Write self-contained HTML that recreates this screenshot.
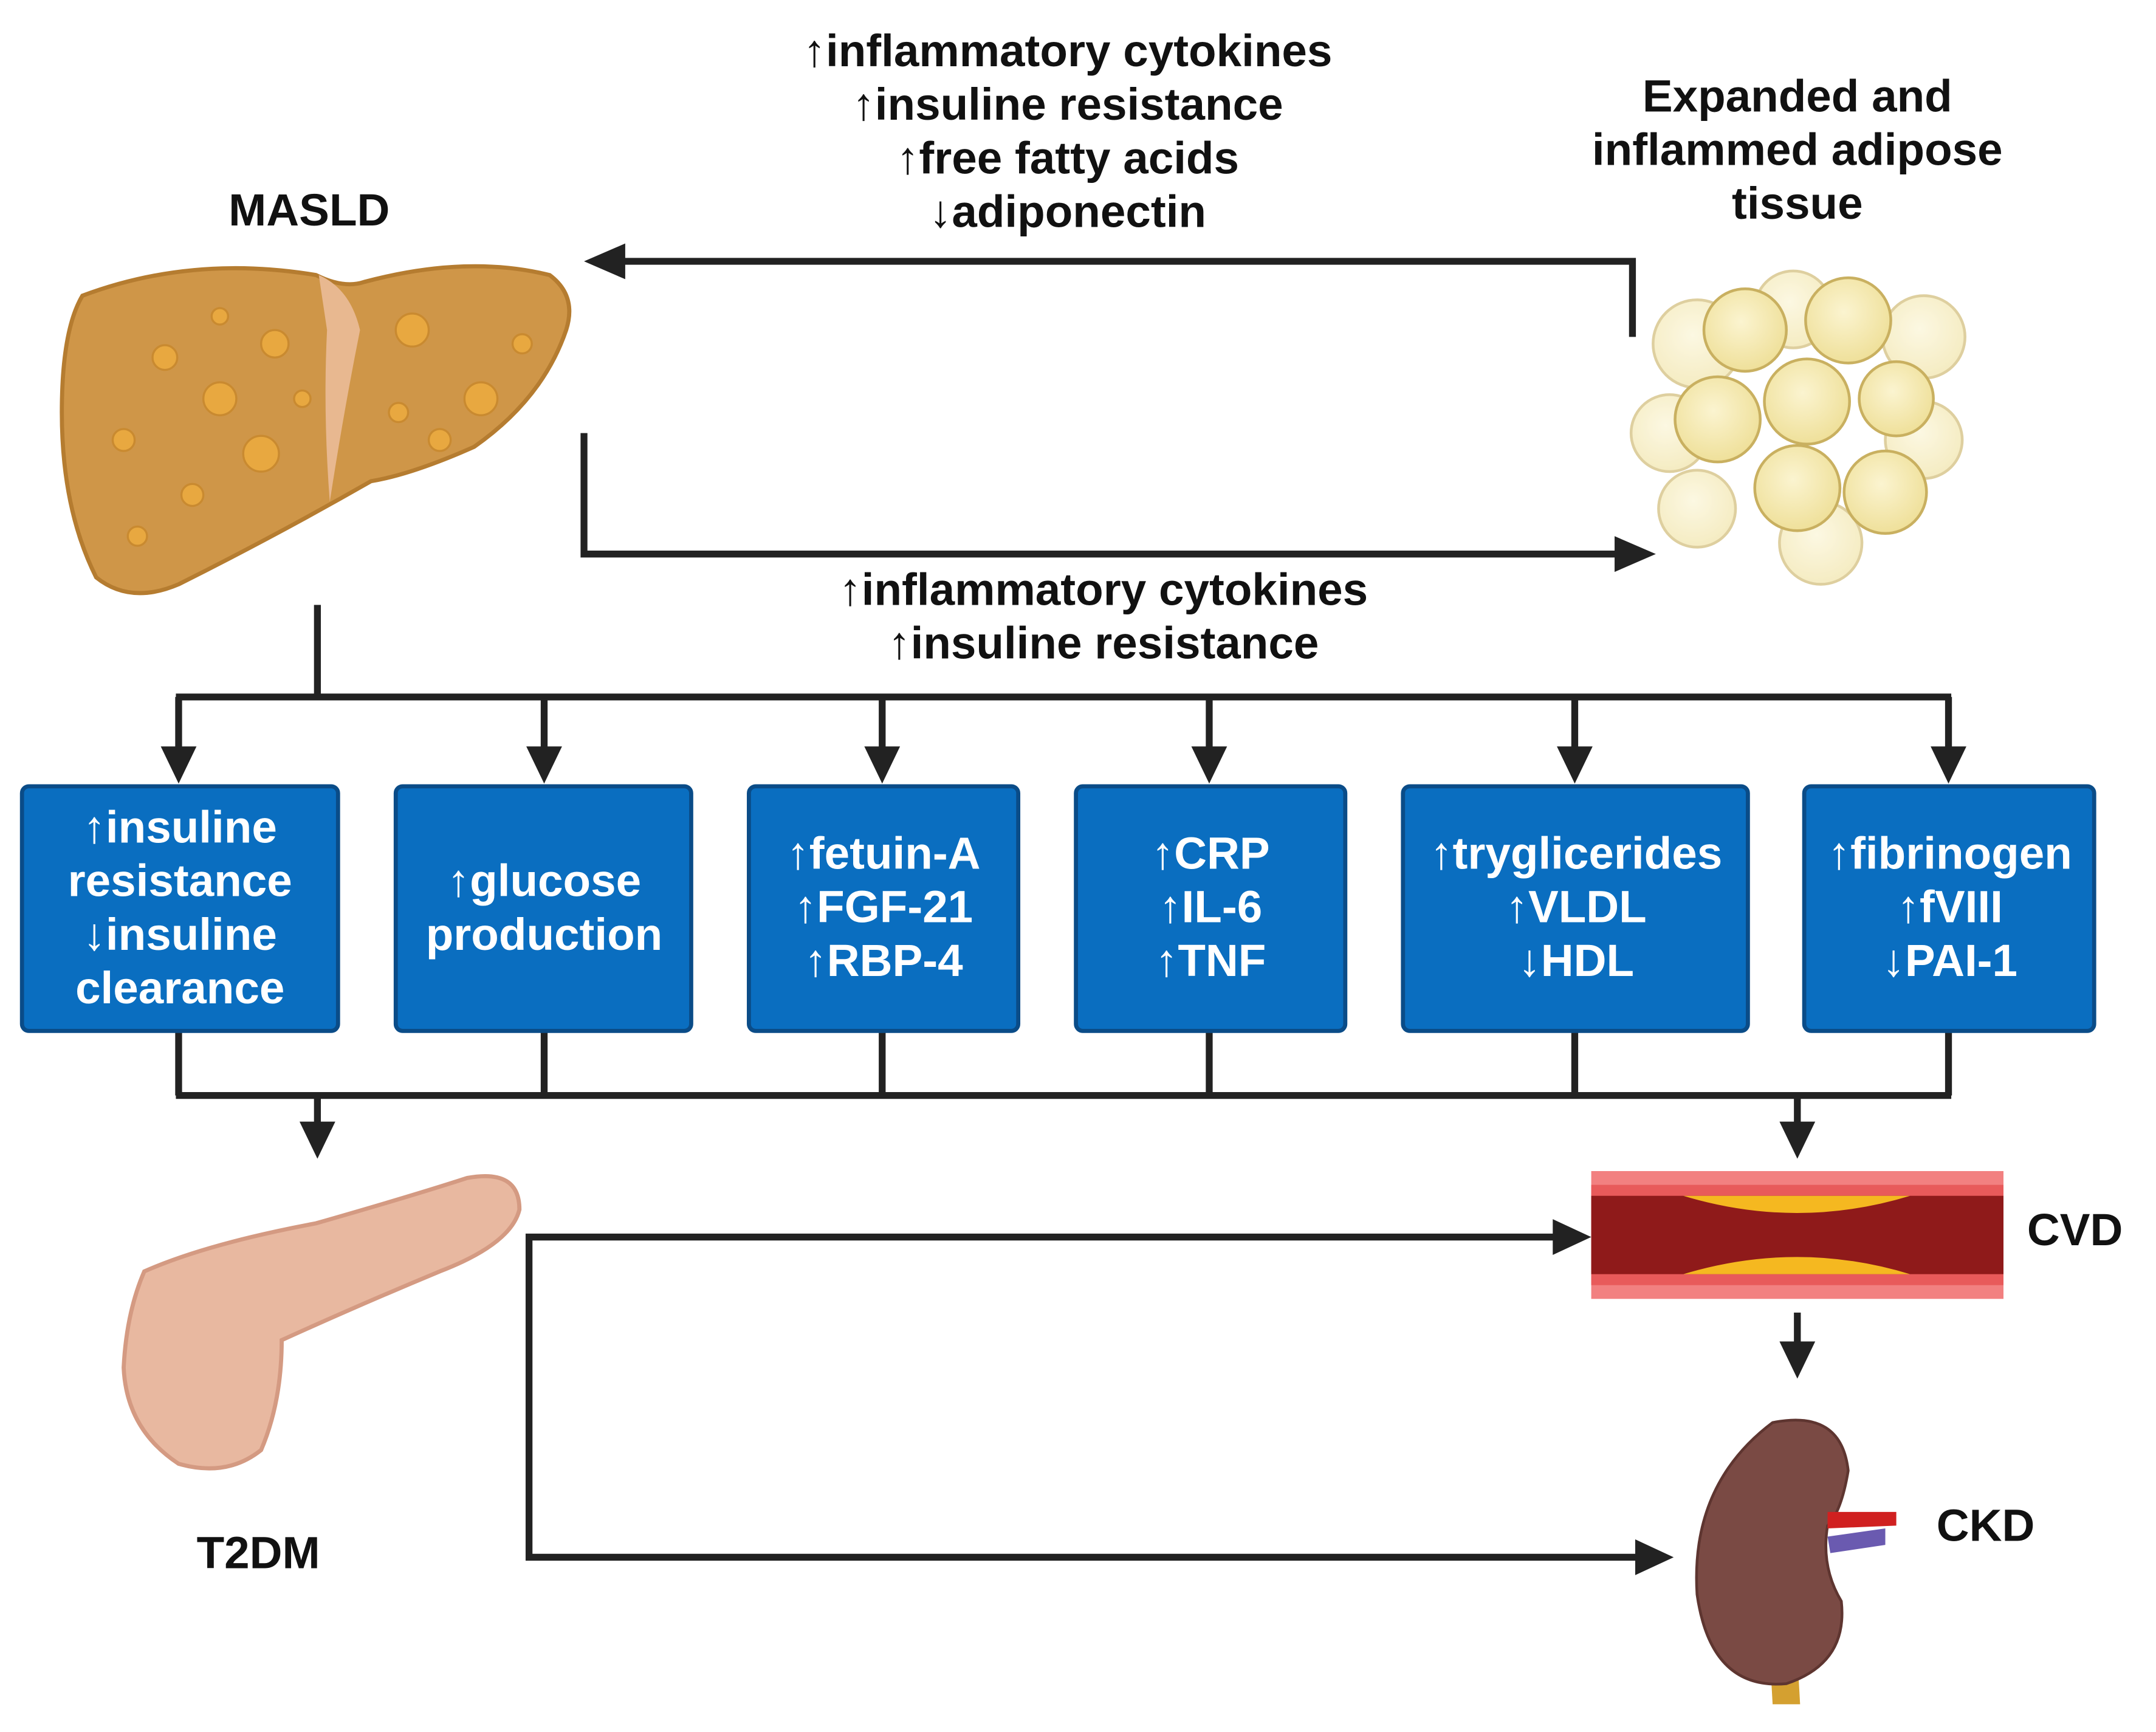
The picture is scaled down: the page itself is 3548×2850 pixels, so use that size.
<!DOCTYPE html>
<html><head><meta charset="utf-8"><style>
html,body{margin:0;padding:0;background:#fff;}
svg{display:block;}
text{font-family:"Liberation Sans",sans-serif;font-weight:bold;}
</style></head><body>
<svg width="3548" height="2850" viewBox="0 0 1569 1260" xmlns="http://www.w3.org/2000/svg">
<rect width="1569" height="1260" fill="#fff"/>
<defs>
<radialGradient id="cell" cx="0.45" cy="0.4" r="0.6"><stop offset="0" stop-color="#fbf4d0"/><stop offset="1" stop-color="#efe09a"/></radialGradient>
</defs>

<g font-size="33" fill="#111" text-anchor="middle">
<text x="777" y="48">↑inflammatory cytokines</text>
<text x="777" y="87">↑insuline resistance</text>
<text x="777" y="126">↑free fatty acids</text>
<text x="777" y="165">↓adiponectin</text>
<text x="1308" y="81">Expanded and</text>
<text x="1308" y="120">inflammed adipose</text>
<text x="1308" y="159">tissue</text>
<text x="225" y="164">MASLD</text>
<text x="803" y="440">↑inflammatory cytokines</text>
<text x="803" y="479">↑insuline resistance</text>
<text x="188" y="1141">T2DM</text>
<text x="1510" y="906">CVD</text>
<text x="1445" y="1121">CKD</text>
</g>

<path d="M60,215 Q140,185 230,200 Q250,210 265,205 Q340,185 400,200 Q420,215 412,240 Q395,290 345,325 Q300,345 270,350 Q200,390 130,425 Q95,440 70,420 Q45,370 45,300 Q45,240 60,215z" fill="#cf9648" stroke="#b57c30" stroke-width="3"/>
<path d="M232,200 Q255,210 262,240 Q250,300 240,365 Q235,300 238,240z" fill="#e8b890"/>
<g fill="#e8a840" stroke="#c98a30" stroke-width="1.5">
<circle cx="120" cy="260" r="9"/><circle cx="160" cy="290" r="12"/><circle cx="90" cy="320" r="8"/><circle cx="200" cy="250" r="10"/><circle cx="190" cy="330" r="13"/><circle cx="140" cy="360" r="8"/><circle cx="300" cy="240" r="12"/><circle cx="350" cy="290" r="12"/><circle cx="290" cy="300" r="7"/><circle cx="100" cy="390" r="7"/><circle cx="220" cy="290" r="6"/><circle cx="160" cy="230" r="6"/><circle cx="380" cy="250" r="7"/><circle cx="320" cy="320" r="8"/>
</g>

<g stroke="#c9b060" stroke-width="2" fill="url(#cell)">
<circle cx="1235" cy="250" r="32" opacity="0.6"/><circle cx="1305" cy="225" r="28" opacity="0.6"/><circle cx="1400" cy="245" r="30" opacity="0.6"/><circle cx="1215" cy="315" r="28" opacity="0.6"/><circle cx="1400" cy="320" r="28" opacity="0.6"/><circle cx="1235" cy="370" r="28" opacity="0.6"/><circle cx="1325" cy="395" r="30" opacity="0.6"/>
<circle cx="1270" cy="240" r="30"/><circle cx="1345" cy="233" r="31"/><circle cx="1250" cy="305" r="31"/><circle cx="1315" cy="292" r="31"/><circle cx="1380" cy="290" r="27"/><circle cx="1308" cy="355" r="31"/><circle cx="1372" cy="358" r="30"/>
</g>

<g stroke="#222" stroke-width="5" fill="none">
<polyline points="1188,245 1188,190 450,190"/>
<polyline points="425,315 425,403 1180,403"/>
<line x1="231" y1="440" x2="231" y2="507"/>
<line x1="128" y1="507" x2="1420" y2="507"/>
<line x1="130" y1="507" x2="130" y2="545"/><line x1="396" y1="507" x2="396" y2="545"/><line x1="642" y1="507" x2="642" y2="545"/><line x1="880" y1="507" x2="880" y2="545"/><line x1="1146" y1="507" x2="1146" y2="545"/><line x1="1418" y1="507" x2="1418" y2="545"/>
<line x1="130" y1="750" x2="130" y2="797"/><line x1="396" y1="750" x2="396" y2="797"/><line x1="642" y1="750" x2="642" y2="797"/><line x1="880" y1="750" x2="880" y2="797"/><line x1="1146" y1="750" x2="1146" y2="797"/><line x1="1418" y1="750" x2="1418" y2="797"/>
<line x1="128" y1="797" x2="1420" y2="797"/>
<line x1="231" y1="797" x2="231" y2="818"/><line x1="1308" y1="797" x2="1308" y2="818"/>
<line x1="1308" y1="955" x2="1308" y2="980"/>
<polyline points="1132,900 385,900 385,1133 1192,1133"/>
</g>
<g fill="#222">
<path d="M425,190 L455,177 L455,203z"/>
<path d="M1205,403 L1175,390 L1175,416z"/>
<path d="M130,570 L117,543 L143,543z"/><path d="M396,570 L383,543 L409,543z"/><path d="M642,570 L629,543 L655,543z"/><path d="M880,570 L867,543 L893,543z"/><path d="M1146,570 L1133,543 L1159,543z"/><path d="M1418,570 L1405,543 L1431,543z"/>
<path d="M231,843 L218,816 L244,816z"/><path d="M1308,843 L1295,816 L1321,816z"/>
<path d="M1308,1003 L1295,976 L1321,976z"/>
<path d="M1158,900 L1130,887 L1130,913z"/>
<path d="M1218,1133 L1190,1120 L1190,1146z"/>
</g>

<g fill="#0a6ec0" stroke="#0a4c88" stroke-width="3">
<rect x="16" y="572" width="230" height="178" rx="5"/>
<rect x="288" y="572" width="215" height="178" rx="5"/>
<rect x="545" y="572" width="196" height="178" rx="5"/>
<rect x="783" y="572" width="196" height="178" rx="5"/>
<rect x="1021" y="572" width="251" height="178" rx="5"/>
<rect x="1313" y="572" width="211" height="178" rx="5"/>
</g>
<g font-size="33" fill="#fff" text-anchor="middle">
<text x="131" y="613">↑insuline</text><text x="131" y="652">resistance</text><text x="131" y="691">↓insuline</text><text x="131" y="730">clearance</text>
<text x="396" y="652">↑glucose</text><text x="396" y="691">production</text>
<text x="643" y="632">↑fetuin-A</text><text x="643" y="671">↑FGF-21</text><text x="643" y="710">↑RBP-4</text>
<text x="881" y="632">↑CRP</text><text x="881" y="671">↑IL-6</text><text x="881" y="710">↑TNF</text>
<text x="1147" y="632">↑tryglicerides</text><text x="1147" y="671">↑VLDL</text><text x="1147" y="710">↓HDL</text>
<text x="1419" y="632">↑fibrinogen</text><text x="1419" y="671">↑fVIII</text><text x="1419" y="710">↓PAI-1</text>
</g>

<path d="M105,925 Q150,905 230,890 Q300,870 340,857 Q378,850 378,880 Q372,905 320,925 Q260,950 205,975 Q205,1020 190,1055 Q165,1075 130,1065 Q92,1040 90,995 Q92,955 105,925z" fill="#e8b8a0" stroke="#d49a82" stroke-width="3"/>

<rect x="1158" y="852" width="300" height="93" fill="#f28080"/>
<rect x="1158" y="862" width="300" height="73" fill="#e85a5a"/>
<rect x="1158" y="870" width="300" height="57" fill="#8f1a1a"/>
<path d="M1225,870 Q1308,895 1390,870z" fill="#f5b820"/>
<path d="M1225,927 Q1308,902 1390,927z" fill="#f5b820"/>

<path d="M1285,1150 L1290,1240 L1310,1240 L1305,1150z" fill="#d4a030"/>
<path d="M1290,1035 Q1340,1025 1345,1070 Q1340,1100 1330,1110 Q1325,1140 1340,1165 Q1345,1210 1300,1225 Q1245,1230 1235,1160 Q1230,1080 1290,1035z" fill="#7a4a44" stroke="#5e3530" stroke-width="2"/>
<path d="M1330,1100 L1380,1100 L1380,1110 L1330,1112z" fill="#d02020"/>
<path d="M1330,1118 L1372,1112 L1372,1124 L1332,1130z" fill="#6a5ab0"/>
</svg>
</body></html>
